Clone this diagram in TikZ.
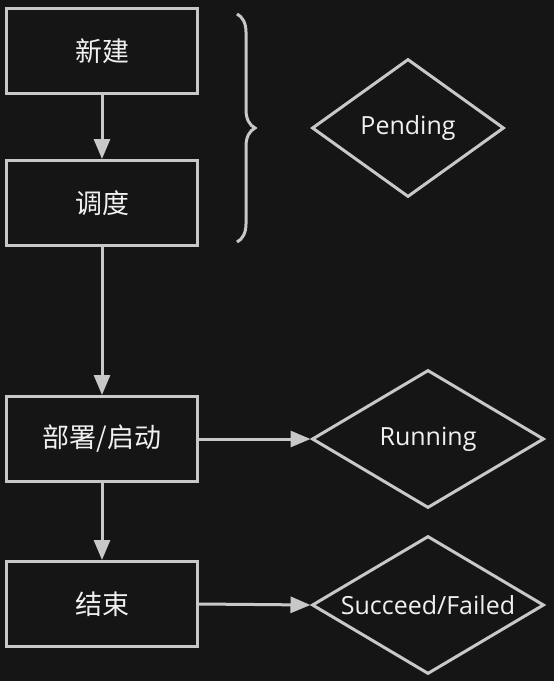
\documentclass[tikz,border=0pt]{standalone}
\usepackage{fontspec}
\setmainfont{Open Sans}
\newfontfamily\cjkfont{Noto Sans CJK SC}
\usetikzlibrary{shapes.geometric, arrows.meta, positioning, decorations.pathreplacing}
\definecolor{bgcolor}{RGB}{21,21,21}
\definecolor{linecolor}{RGB}{200,200,200}
\definecolor{textcolor}{RGB}{240,240,240}

\begin{document}
\begin{tikzpicture}[
    x=1pt, y=1pt,
    state/.style={rectangle, draw=linecolor, line width=3pt, minimum width=191pt, minimum height=85pt, text=textcolor, font=\cjkfont\fontsize{27}{30}\selectfont},
    phase/.style={diamond, draw=linecolor, line width=3pt, minimum width=232pt, minimum height=138pt, inner sep=0pt, text=textcolor, font=\fontsize{25}{28}\selectfont},
    arrow/.style={-{Triangle[length=20pt,width=16pt]}, draw=linecolor, fill=linecolor, line width=3pt},
    node distance=64pt
]
    % background and size
    \fill[bgcolor] (0,0) rectangle (554,-681);
    \useasboundingbox (0,0) rectangle (554,-681);

    % states
    \node[state] (xinjian) at (102,-51) {新建};
    \node[state, below=of xinjian] (diaodu) {调度};
    \node[state, below=148pt of diaodu] (bushu) {部署/启动};
    \node[state, below=77pt of bushu] (jieshu) {结束};

    % phases
    \node[phase, minimum width=192pt] (pending) at (408,-128) {\makebox[0pt]{Pending}};
    \node[phase] (running) at (428,-439) {\makebox[0pt]{Running}};
    \node[phase] (done) at (428,-605) {\makebox[0pt]{Succeed/Failed}};

    % brace over the pending states
    \coordinate (bracetop) at (237,-14);
    \coordinate (bracebot) at (237,-242);
    \draw[linecolor, line width=3pt, decorate, decoration={brace, amplitude=18pt}] (bracetop) -- (bracebot);

    % transitions
    \draw[arrow] (xinjian) -- (diaodu);
    \draw[arrow] (diaodu) -- (bushu);
    \draw[arrow] (bushu) -- (jieshu);
    \draw[arrow] (bushu.east) -- (running.west);
    \draw[arrow] (jieshu.east) -- (done.west);

\end{tikzpicture}
\end{document}
